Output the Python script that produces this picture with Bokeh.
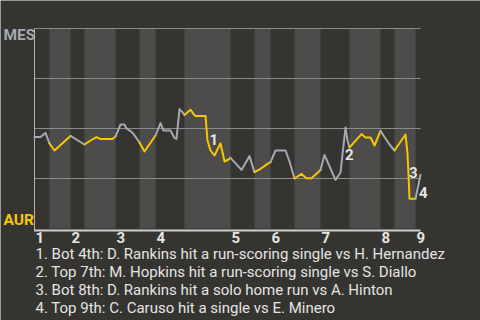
from bokeh.plotting import figure
from bokeh.models import Range1d
from bokeh.core.properties import value
from bokeh.embed import file_html
from bokeh.resources import INLINE

# Teams: away team batting in the top half, home team in the bottom half
away_team = "MES"
home_team = "AUR"

# Game progress units where each half-inning starts, plus the end of the game
inning_labels = ["1", "2", "3", "4", "5", "6", "7", "8", "9"]
half_inning_starts = [0, 15, 36, 50, 81, 105, 121, 150, 196, 220, 236, 260,
                      286, 315, 346, 360, 381]
game_end = 386

# Win probability for the away team (%) through the game
progress = [0, 6, 11, 15, 20, 36, 50, 56, 62, 66, 78, 81, 86, 90, 92, 96, 99,
            105, 110, 121, 126, 129, 136, 140, 142, 145, 148, 150, 156, 159,
            161, 171, 173, 176, 180, 186, 190, 194, 196, 207, 215, 220, 226,
            233, 236, 241, 251, 255, 260, 267, 272, 277, 286, 290, 301, 306,
            311, 313, 315, 327, 331, 336, 340, 346, 349, 355, 360, 371, 373,
            374, 375, 381, 386]
away_win_pct = [45.7, 45.7, 47.8, 42.5, 39, 46.3, 42, 44, 45.7, 44.7, 44.7, 46,
                52, 52, 50, 48.7, 47.3, 43, 38.5, 46.5, 52.7, 49, 49, 45.3,
                44.8, 59.7, 58.2, 56.8, 59.4, 57.3, 56.2, 56.2, 44, 39, 36.5,
                42.6, 33.5, 34.5, 35.3, 29.3, 36.2, 28.2, 29.8, 32.3, 33.2, 39,
                39, 33.5, 25, 27.3, 25.1, 25.1, 29.2, 36.8, 24.3, 28, 50.5, 44,
                40.5, 47.2, 45.5, 45.5, 41.5, 48.8, 46.5, 42, 39, 47, 37.4, 27,
                14.9, 14.9, 26.9]

# Key plays
key_plays = [
    "1. Bot 4th: D. Rankins hit a run-scoring single vs H. Hernandez",
    "2. Top 7th: M. Hopkins hit a run-scoring single vs S. Diallo",
    "3. Bot 8th: D. Rankins hit a solo home run vs A. Hinton",
    "4. Top 9th: C. Caruso hit a single vs E. Minero",
]

BG = "#363431"
BAND = "#4d4c4a"
GRID = "#8c8b89"
AWAY_COLOR = "#a3a9ae"
HOME_COLOR = "#f7c600"
TEXT = "#e4e4e4"
FONT = value("Roboto")

p = figure(width=480, height=320, output_backend="svg", toolbar_location=None,
           x_range=Range1d(-34, 446), y_range=Range1d(-46, 114),
           x_axis_location=None, y_axis_location=None, min_border=0,
           background_fill_color=BG, border_fill_color=BG,
           outline_line_color=None)
p.grid.visible = False

# Shaded bottom halves of each inning
bounds = half_inning_starts + [game_end]
left = [bounds[i] for i in range(1, len(bounds) - 1, 2)]
right = [bounds[i + 1] for i in range(1, len(bounds) - 1, 2)]
p.quad(left=left, right=right, bottom=0, top=100, fill_color=BAND,
       line_color=None)

# Horizontal guide lines
levels = [25, 50, 75, 100]
p.segment(x0=[0] * len(levels), x1=[game_end] * len(levels), y0=levels,
          y1=levels, line_color=GRID, line_width=1)

# Axis lines
p.segment(x0=[0], x1=[0], y0=[-1.5], y1=[100], line_color="#b5b5b5",
          line_width=1)
p.segment(x0=[0], x1=[game_end], y0=[-1], y1=[-1], line_color="#cfcfcf",
          line_width=2)


def half_index(x):
    idx = 0
    for i, s in enumerate(half_inning_starts):
        if x >= s:
            idx = i
    return idx


# Win probability line, coloured by which team is batting
runs = []
for i in range(len(progress) - 1):
    mid = (progress[i] + progress[i + 1]) / 2
    color = HOME_COLOR if half_index(mid) % 2 else AWAY_COLOR
    if runs and runs[-1][0] == color:
        runs[-1][1].append(progress[i + 1])
        runs[-1][2].append(away_win_pct[i + 1])
    else:
        runs.append([color, [progress[i], progress[i + 1]],
                     [away_win_pct[i], away_win_pct[i + 1]]])
p.multi_line(xs=[r[1] for r in runs], ys=[r[2] for r in runs],
             line_color=[r[0] for r in runs], line_width=2,
             line_join="round", line_cap="round")

# Text baselines sit a little low in the SVG output; lift them to compensate
LIFT = 2.5

# Key play markers
marker_x = [175, 310.5, 374.5, 384.5]
marker_y = [42.25, 34.35, 25.35, 15.35]
p.text(x=marker_x, y=[v + LIFT for v in marker_y],
       text=[s.split(".")[0] for s in key_plays],
       text_font=FONT, text_font_size="15px", text_font_style="bold",
       text_color=TEXT, text_align="left", text_baseline="alphabetic")

# Team labels
p.text(x=[-31], y=[94.3 + LIFT], text=[away_team], text_font=FONT,
       text_font_size="15.5px", text_font_style="bold", text_color=AWAY_COLOR,
       text_align="left", text_baseline="alphabetic")
p.text(x=[-31], y=[1.85 + LIFT], text=[home_team], text_font=FONT,
       text_font_size="15.5px", text_font_style="bold", text_color=HOME_COLOR,
       text_align="left", text_baseline="alphabetic")

# Inning numbers
inning_x = [half_inning_starts[2 * i] + 1 for i in range(len(inning_labels))]
p.text(x=inning_x, y=[-7 + LIFT] * len(inning_labels), text=inning_labels,
       text_font=FONT, text_font_size="15px", text_font_style="bold",
       text_color=TEXT, text_align="left", text_baseline="alphabetic")

# Key play descriptions
p.text(x=[1] * len(key_plays),
       y=[-15 - 9 * i + LIFT for i in range(len(key_plays))],
       text=key_plays, text_font=FONT, text_font_size="15px",
       text_color=TEXT, text_align="left", text_baseline="alphabetic")

open("out.html", "w").write(file_html(p, INLINE))
